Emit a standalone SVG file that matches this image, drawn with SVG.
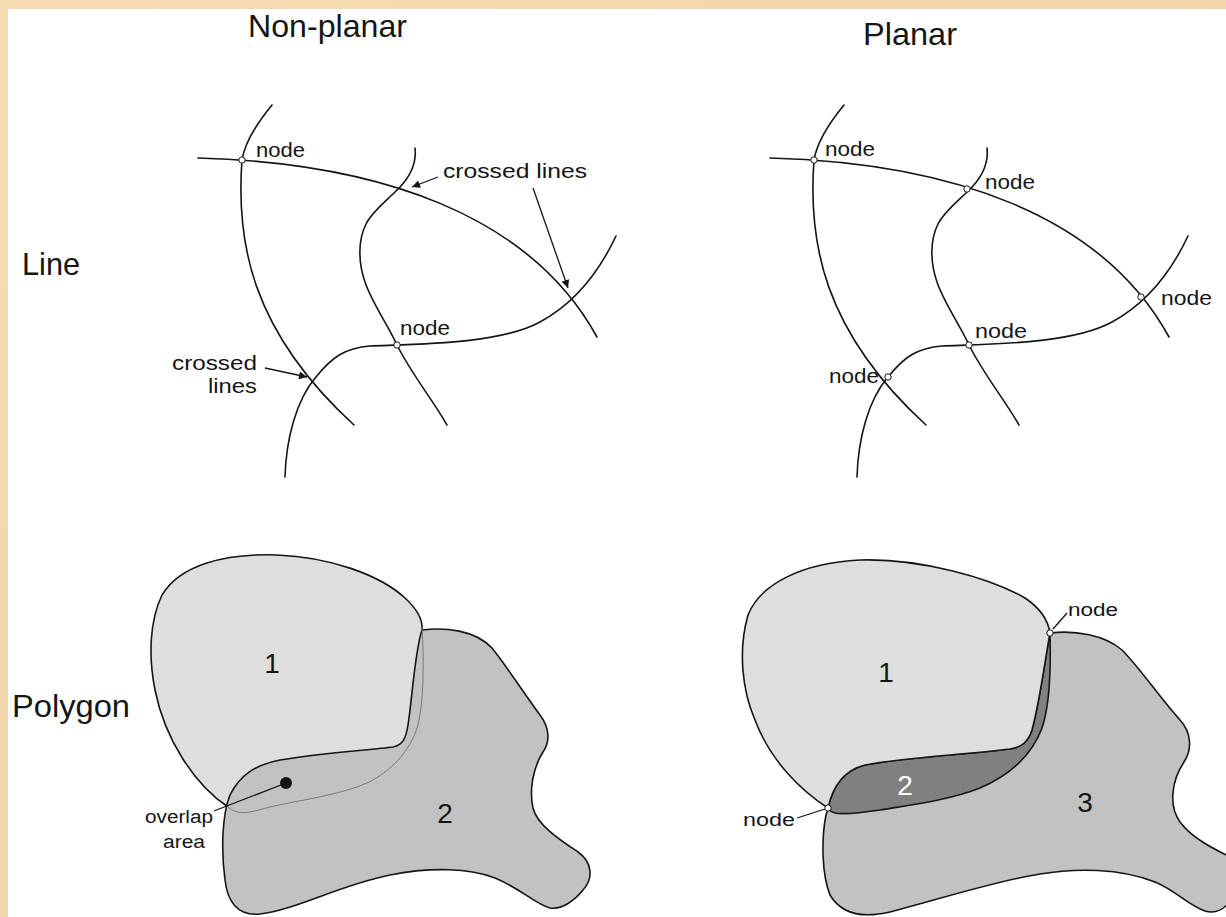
<svg xmlns="http://www.w3.org/2000/svg" width="1226" height="917" viewBox="0 0 1226 917">
  <defs>
    <style>
      .ln { fill: none; stroke: #151515; stroke-width: 1.6; stroke-linecap: round; }
      .nd { fill: #ffffff; stroke: #151515; stroke-width: 1; }
      .t { font-family: "Liberation Sans", Arial, sans-serif; fill: #151515; }
      .title { font-size: 32px; }
      .lab { font-size: 21px; }
      .sm { font-size: 18px; }
      .num { font-size: 28px; text-anchor: middle; }
      .lead { fill: none; stroke: #151515; stroke-width: 1.3; }
      .poly { stroke: #151515; stroke-width: 1.6; stroke-linejoin: round; }
    </style>
    <marker id="ah" viewBox="0 0 10 10" refX="10" refY="5" markerWidth="10" markerHeight="8" markerUnits="userSpaceOnUse" orient="auto">
      <path d="M0,0 L10,5 L0,10 Z" fill="#151515"/>
    </marker>
    <linearGradient id="parch" x1="0" y1="0" x2="1" y2="1">
      <stop offset="0" stop-color="#f6dcb3"/>
      <stop offset="0.5" stop-color="#f3d5aa"/>
      <stop offset="1" stop-color="#f7e0bb"/>
    </linearGradient>
  </defs>

  <!-- background -->
  <rect x="0" y="0" width="1226" height="917" fill="url(#parch)"/>
  <rect x="8" y="9" width="1218" height="908" fill="#ffffff"/>

  <!-- titles -->
  <g id="titles">
    <text class="t title" x="248" y="37" textLength="159" lengthAdjust="spacingAndGlyphs">Non-planar</text>
    <text class="t title" x="863" y="45" textLength="94" lengthAdjust="spacingAndGlyphs">Planar</text>
    <text class="t title" x="22" y="275" textLength="58" lengthAdjust="spacingAndGlyphs">Line</text>
    <text class="t title" x="12" y="717" textLength="118" lengthAdjust="spacingAndGlyphs">Polygon</text>
  </g>

  <!-- Non-planar line network -->
  <g id="connectors-nonplanar-lines">
    <path class="ln" d="M272,105 C 258,122 245,142 242,160 C 236,240 250,330 354,425"/>
    <path class="ln" d="M198,158 C 380,163 530,215 597,337"/>
    <path class="ln" d="M415,148 C 417,165 408,180 395,192 C 385,202 372,212 366,224 C 358,240 358,262 365,282 C 372,303 388,325 397,345 C 412,375 433,400 447,425"/>
    <path class="ln" d="M285,477 C 286,440 296,400 316,377 C 332,357 345,348 370,346 C 420,344 500,344 540,322 C 575,303 600,270 616,236"/>
    <line class="lead" x1="438" y1="177" x2="412" y2="187" marker-end="url(#ah)"/>
    <line class="lead" x1="533" y1="188" x2="568" y2="288" marker-end="url(#ah)"/>
    <line class="lead" x1="265" y1="368" x2="307" y2="377" marker-end="url(#ah)"/>
  </g>
  <g id="np-node-1">
    <circle class="nd" cx="242" cy="160" r="3.2"/>
    <text class="t lab" x="256" y="157" textLength="49" lengthAdjust="spacingAndGlyphs">node</text>
  </g>
  <g id="np-node-2">
    <circle class="nd" cx="397" cy="345" r="3.2"/>
    <text class="t lab" x="400" y="335" textLength="50" lengthAdjust="spacingAndGlyphs">node</text>
  </g>
  <g id="np-crossed-labels">
    <text class="t lab" x="443" y="178" textLength="144" lengthAdjust="spacingAndGlyphs">crossed lines</text>
    <text class="t lab" x="257" y="370" text-anchor="end" textLength="85" lengthAdjust="spacingAndGlyphs">crossed</text>
    <text class="t lab" x="257" y="393" text-anchor="end" textLength="49" lengthAdjust="spacingAndGlyphs">lines</text>
  </g>

  <!-- Planar line network -->
  <g id="connectors-planar-lines" transform="translate(572,0)">
    <path class="ln" d="M272,105 C 258,122 245,142 242,160 C 236,240 250,330 354,425"/>
    <path class="ln" d="M198,158 C 380,163 530,215 597,337"/>
    <path class="ln" d="M415,148 C 417,165 408,180 395,192 C 385,202 372,212 366,224 C 358,240 358,262 365,282 C 372,303 388,325 397,345 C 412,375 433,400 447,425"/>
    <path class="ln" d="M285,477 C 286,440 296,400 316,377 C 332,357 345,348 370,346 C 420,344 500,344 540,322 C 575,303 600,270 616,236"/>
  </g>
  <g id="p-node-1">
    <circle class="nd" cx="814" cy="160" r="3.2"/>
    <text class="t lab" x="825" y="156" textLength="50" lengthAdjust="spacingAndGlyphs">node</text>
  </g>
  <g id="p-node-2">
    <circle class="nd" cx="967" cy="189" r="3.2"/>
    <text class="t lab" x="985" y="189" textLength="50" lengthAdjust="spacingAndGlyphs">node</text>
  </g>
  <g id="p-node-3">
    <circle class="nd" cx="1141" cy="297" r="3.2"/>
    <text class="t lab" x="1161" y="305" textLength="51" lengthAdjust="spacingAndGlyphs">node</text>
  </g>
  <g id="p-node-4">
    <circle class="nd" cx="969" cy="345" r="3.2"/>
    <text class="t lab" x="975" y="338" textLength="52" lengthAdjust="spacingAndGlyphs">node</text>
  </g>
  <g id="p-node-5">
    <circle class="nd" cx="888" cy="377" r="3.2"/>
    <text class="t lab" x="829" y="383" textLength="50" lengthAdjust="spacingAndGlyphs">node</text>
  </g>

  <!-- Non-planar polygons -->
  <g id="np-polygon-1">
    <path class="poly" fill="#dedede" d="M228,807 C 195,785 165,740 155,690 C 148,655 150,620 162,595 C 180,565 225,553 277,555 C 330,557 380,575 405,598 C 418,610 422,620 422,627 C 424,660 424,700 418,725 C 410,752 390,772 367,783 C 340,795 300,800 270,807 C 255,811 245,814 238,812 C 233,811 230,809 228,807 Z"/>
  </g>
  <g id="np-polygon-2">
    <path class="poly" fill="#c2c2c2" d="M422,630 C 445,627 475,630 492,648 C 508,668 525,695 540,715 C 550,728 550,742 543,752 C 533,768 529,790 533,808 C 537,825 560,840 578,852 C 592,862 594,878 583,890 C 575,900 562,910 550,908 C 535,904 520,888 495,878 C 470,868 430,867 390,875 C 340,885 295,910 260,914 C 240,916 228,905 225,880 C 221,850 222,815 230,795 C 240,775 255,765 280,760 C 320,753 370,750 393,747 C 403,745 406,738 408,725 C 412,700 415,650 422,630 Z"/>
    <path fill="none" stroke="#7a7a7a" stroke-width="1" d="M422,627 C 424,660 424,700 418,725 C 410,752 390,772 367,783 C 340,795 300,800 270,807 C 255,811 245,814 238,812 C 233,811 230,809 228,807"/>
    <text class="t num" x="272" y="673">1</text>
    <text class="t num" x="445" y="823">2</text>
  </g>
  <g id="np-overlap-label">
    <line class="lead" x1="214" y1="811" x2="286" y2="783"/>
    <circle cx="286" cy="783" r="6" fill="#151515"/>
    <text class="t sm" x="179" y="823" text-anchor="middle" textLength="68" lengthAdjust="spacingAndGlyphs">overlap</text>
    <text class="t sm" x="184" y="848" text-anchor="middle" textLength="42" lengthAdjust="spacingAndGlyphs">area</text>
  </g>

  <!-- Planar polygons -->
  <g id="p-region-3">
    <path class="poly" fill="#c2c2c2" d="M1050,633 C 1075,630 1105,635 1122,650 C 1140,668 1160,698 1180,720 C 1192,733 1192,750 1184,762 C 1172,780 1168,805 1180,822 C 1192,838 1212,848 1232,858 L 1232,898 C 1225,910 1215,914 1205,911 C 1188,905 1175,890 1155,882 C 1120,868 1075,868 1040,874 C 990,882 930,902 890,912 C 860,919 840,912 830,895 C 822,875 821,840 826,815 C 827,812 828,810 828,808 C 833,785 845,770 865,765 C 900,758 960,755 1010,749 C 1022,747 1028,742 1032,730 C 1040,700 1045,660 1050,633 Z"/>
    <text class="t num" x="1085" y="812">3</text>
  </g>
  <g id="p-region-2">
    <path class="poly" fill="#808080" d="M828,808 C 833,785 845,770 865,765 C 900,758 960,755 1010,749 C 1022,747 1028,742 1032,730 C 1040,700 1045,660 1050,633 C 1051,670 1050,705 1042,728 C 1032,755 1010,775 980,788 C 950,800 910,805 880,810 C 860,813 845,815 835,813 C 831,812 829,810 828,808 Z"/>
    <text class="t num" x="905" y="795" fill="#ffffff" style="fill:#ffffff">2</text>
  </g>
  <g id="p-region-1">
    <path class="poly" fill="#dedede" d="M828,808 C 800,790 770,760 755,720 C 742,690 738,650 748,615 C 760,585 800,563 860,560 C 920,558 990,578 1025,598 C 1040,608 1048,620 1050,633 C 1045,660 1040,700 1032,730 C 1028,742 1022,747 1010,749 C 960,755 900,758 865,765 C 845,770 833,785 828,808 Z"/>
    <text class="t num" x="886" y="682">1</text>
  </g>
  <g id="p-poly-node-1">
    <line class="lead" x1="1067" y1="613" x2="1053" y2="629"/>
    <circle class="nd" cx="1050" cy="633" r="3.2"/>
    <text class="t sm" x="1068" y="616" textLength="50" lengthAdjust="spacingAndGlyphs">node</text>
  </g>
  <g id="p-poly-node-2">
    <line class="lead" x1="797" y1="818" x2="825" y2="809"/>
    <circle class="nd" cx="828" cy="808" r="3.2"/>
    <text class="t sm" x="743" y="826" textLength="52" lengthAdjust="spacingAndGlyphs">node</text>
  </g>
</svg>
